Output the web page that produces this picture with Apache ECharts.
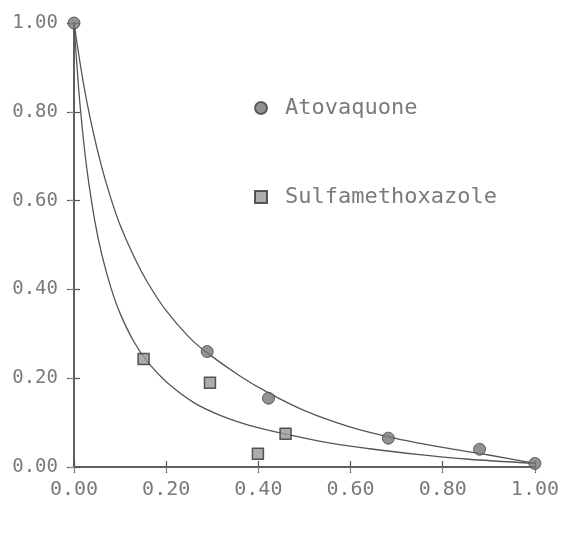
<!DOCTYPE html>
<html>
<head>
<meta charset="utf-8">
<script src="https://cdn.jsdelivr.net/npm/echarts@6/dist/echarts.min.js"></script>
<style>
  html, body { margin: 0; padding: 0; background: #fff; }
  #chart { width: 562px; height: 539px; }
</style>
</head>
<body>
<div id="chart"></div>
<script>
// measured points
var atovaquone = [[0, 1.0], [0.289, 0.26], [0.422, 0.155], [0.682, 0.065], [0.88, 0.04], [1.0, 0.008]]
var sulfamethoxazole = [[0.151, 0.243], [0.295, 0.19], [0.459, 0.075], [0.399, 0.03]]
// fitted curves
var atovaquoneCurve = [[0, 1], [0.02, 0.867], [0.04, 0.762], [0.06, 0.676], [0.08, 0.605], [0.1, 0.545],
  [0.13, 0.474], [0.16, 0.415], [0.2, 0.352], [0.25, 0.292], [0.289, 0.257], [0.36, 0.205],
  [0.42, 0.168], [0.5, 0.127], [0.6, 0.09], [0.7, 0.064], [0.8, 0.044], [0.9, 0.027], [1, 0.008]]
var sulfaCurve = [[0, 1], [0.01, 0.853], [0.02, 0.742], [0.03, 0.655], [0.045, 0.555], [0.06, 0.48],
  [0.08, 0.404], [0.1, 0.346], [0.13, 0.282], [0.16, 0.236], [0.2, 0.192], [0.26, 0.145],
  [0.32, 0.115], [0.38, 0.094], [0.46, 0.074], [0.55, 0.055], [0.65, 0.04], [0.75, 0.028],
  [0.85, 0.018], [1, 0.008]]

var axisColor = '#555'
var textColor = '#7a7a7a'
var font = '"DejaVu Sans Mono", "Liberation Mono", monospace'

var myChart = echarts.init(document.getElementById('chart'))

function fmt (v) { return v.toFixed(2) }

var option = {
  backgroundColor: '#fff',
  animation: false,
  grid: { left: 74, right: 17, top: 23, bottom: 72 },
  legend: {
    data: [
      { name: 'Atovaquone', icon: 'circle' },
      { name: 'Sulfamethoxazole', icon: 'rect' }
    ],
    orient: 'vertical',
    left: 249,
    top: 92,
    itemWidth: 12,
    itemHeight: 12,
    itemGap: 67,
    textStyle: { color: textColor, fontFamily: font, fontSize: 22, padding: [0, 0, 0, 13] }
  },
  xAxis: [
    {
      type: 'value', min: 0, max: 1, interval: 0.2, position: 'bottom',
      axisLine: { lineStyle: { color: axisColor, width: 1.5 } },
      axisTick: { show: true, length: 6, lineStyle: { color: axisColor, width: 1.2 } },
      axisLabel: { color: textColor, fontFamily: font, fontSize: 20, margin: 13, formatter: fmt },
      splitLine: { show: false }
    },
    {
      type: 'value', min: 0, max: 1, interval: 0.2, position: 'bottom',
      axisLine: { show: false },
      axisTick: { show: true, inside: true, length: 6, lineStyle: { color: axisColor, width: 1.2 } },
      axisLabel: { show: false },
      splitLine: { show: false }
    },
    {
      type: 'value', min: 0, max: 1, interval: 0.2, position: 'top',
      axisLine: { show: true, lineStyle: { color: axisColor, width: 1.5 } },
      axisTick: { show: true, inside: true, length: 5, lineStyle: { color: '#888', width: 1 } },
      axisLabel: { show: false },
      splitLine: { show: false }
    }
  ],
  yAxis: [
    {
      type: 'value', min: 0, max: 1, interval: 0.2, position: 'left',
      axisLine: { show: true, lineStyle: { color: axisColor, width: 1.5 } },
      axisTick: { show: true, length: 7, lineStyle: { color: axisColor, width: 1.2 } },
      axisLabel: { color: textColor, fontFamily: font, fontSize: 19, margin: 16, formatter: fmt },
      splitLine: { show: false }
    },
    {
      type: 'value', min: 0, max: 1, interval: 0.2, position: 'left',
      axisLine: { show: false },
      axisTick: { show: true, inside: true, length: 6, lineStyle: { color: axisColor, width: 1.2 } },
      axisLabel: { show: false },
      splitLine: { show: false }
    },
    {
      type: 'value', min: 0, max: 1, interval: 0.2, position: 'right',
      axisLine: { show: true, lineStyle: { color: axisColor, width: 1.5 } },
      axisTick: { show: true, inside: true, length: 5, lineStyle: { color: '#888', width: 1 } },
      axisLabel: { show: false },
      splitLine: { show: false }
    }
  ],
  series: [
    {
      name: 'atovaquone-fit',
      type: 'line',
      data: atovaquoneCurve,
      smooth: 0.3,
      showSymbol: false,
      lineStyle: { color: '#555', width: 1.3 },
      silent: true,
      z: 1
    },
    {
      name: 'sulfa-fit',
      type: 'line',
      data: sulfaCurve,
      smooth: 0.3,
      showSymbol: false,
      lineStyle: { color: '#555', width: 1.3 },
      silent: true,
      z: 1
    },
    {
      name: 'Atovaquone',
      type: 'scatter',
      data: atovaquone,
      symbol: 'circle',
      symbolSize: 12,
      itemStyle: { color: '#777', borderColor: '#444', borderWidth: 1 },
      z: 3
    },
    {
      name: 'Sulfamethoxazole',
      type: 'scatter',
      data: sulfamethoxazole,
      symbol: 'rect',
      symbolSize: 11,
      itemStyle: { color: '#999', borderColor: '#333', borderWidth: 1.5 },
      z: 3
    }
  ]
}

myChart.setOption(option)
window.onresize = myChart.resize
</script>
</body>
</html>
